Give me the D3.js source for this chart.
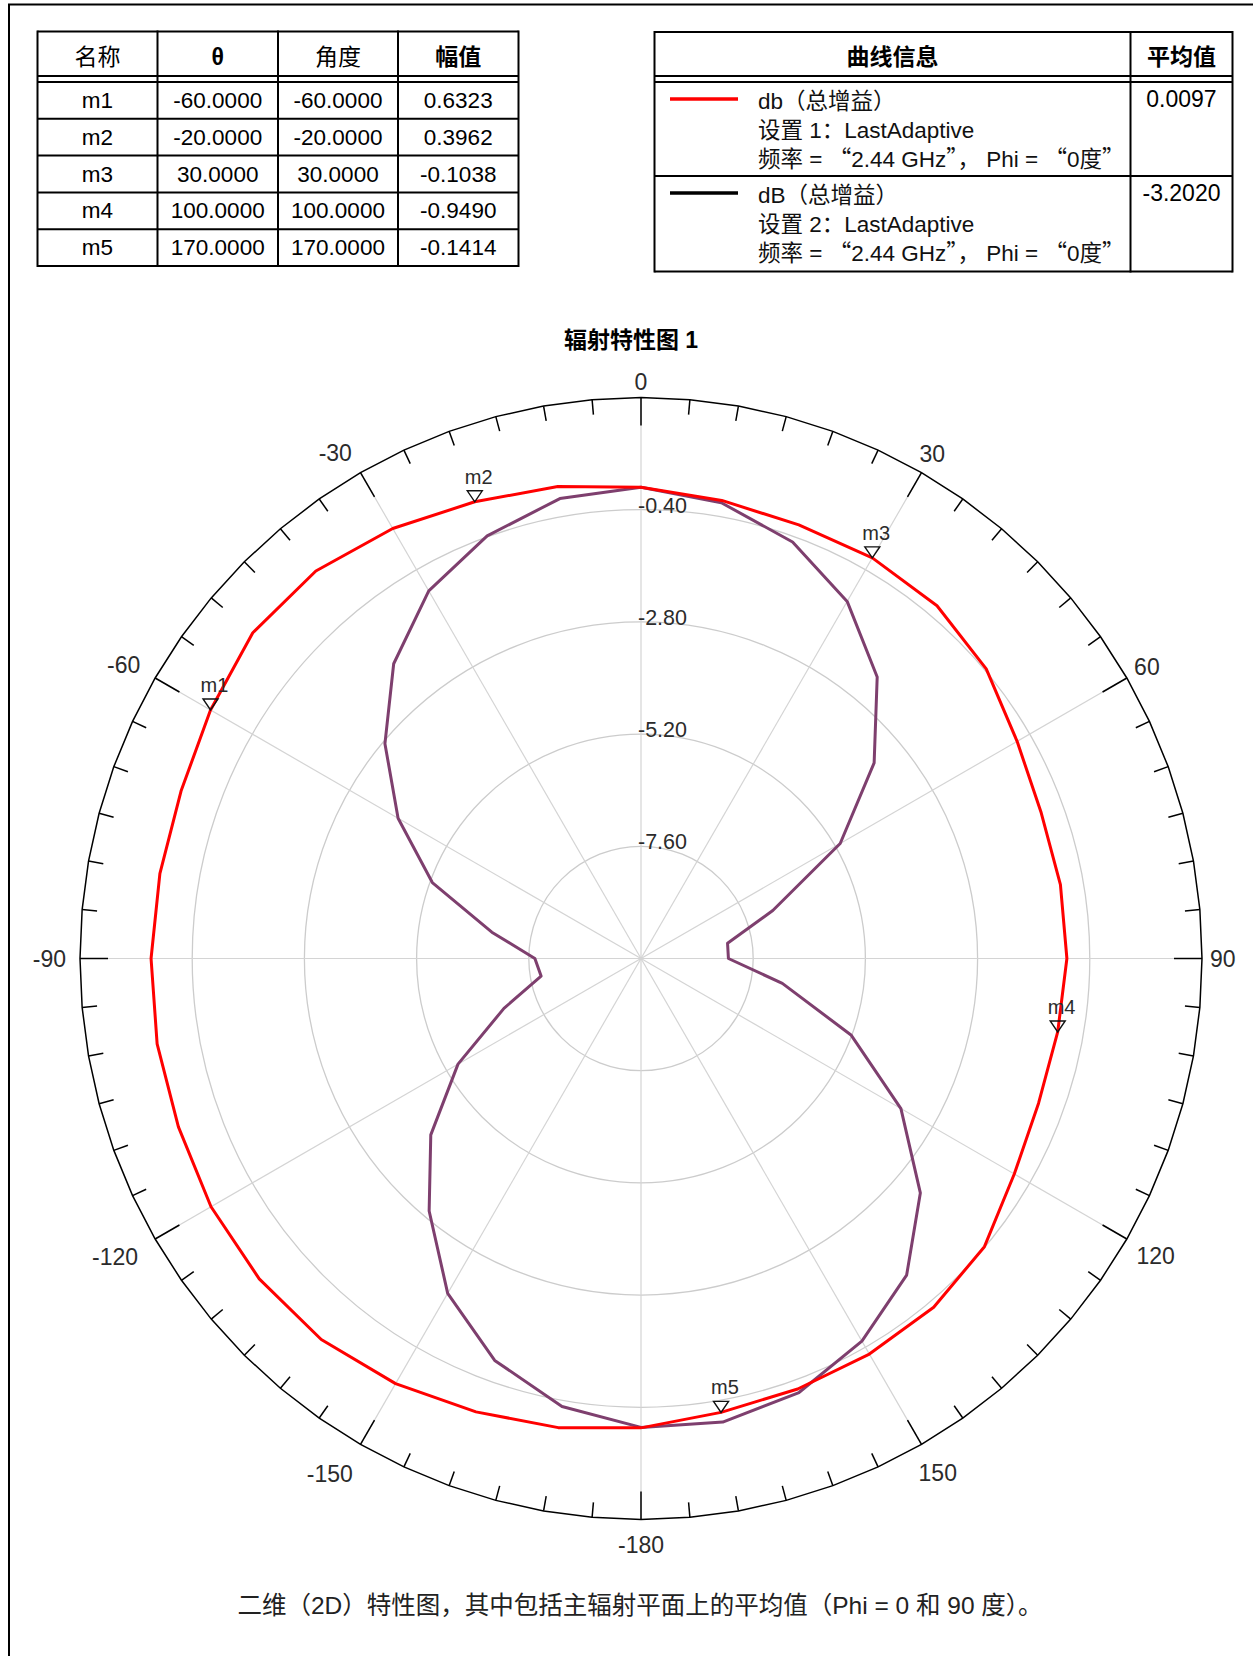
<!DOCTYPE html>
<html>
<head>
<meta charset="utf-8">
<script src="https://cdn.jsdelivr.net/npm/d3@7"></script>
<style>
  html, body { margin: 0; padding: 0; background: #fff; }
  svg { display: block; }
  text { font-family: "Liberation Sans", Arial, "Noto Sans CJK SC", sans-serif; }
  .cjk { font-family: "Noto Sans CJK SC", sans-serif; }
</style>
</head>
<body>
<svg id="chart" width="1253" height="1656"></svg>
<script>
// ---- marker table ----
const markerColumns = ["名称", "θ", "角度", "幅值"];
const markerNames = ["m1", "m2", "m3", "m4", "m5"];
const markerTheta = [-60, -20, 30, 100, 170];
const markerValues = [0.6323, 0.3962, -0.1038, -0.9490, -0.1414];

// ---- trace legend ----
const legendColumns = ["曲线信息", "平均值"];
const traceNames = ["db（总增益）", "dB（总增益）"];
const traceSetups = ["设置 1：LastAdaptive", "设置 2：LastAdaptive"];
const traceConditions = ["频率 = “2.44 GHz”， Phi = “0度”", "频率 = “2.44 GHz”， Phi = “0度”"];
const traceMeans = ["0.0097", "-3.2020"];

// ---- pattern samples (theta in degrees, gain in dB) ----
const thetaDeg = [-180, -170, -160, -150, -140, -130, -120, -110, -100, -90, -80, -70, -60,
                  -50, -40, -30, -20, -10, 0, 10, 20, 30, 40, 50, 60, 70, 80, 90,
                  100, 110, 120, 130, 140, 150, 160, 170, 180];
const gainSetup1 = [0.04, 0.19, 0.32, 0.50, 0.64, 0.66, 0.62, 0.53, 0.51, 0.48, 0.45, 0.47, 0.6323,
                    0.84, 0.82, 0.62, 0.3962, 0.25, 0.08, -0.05, -0.13, -0.1038, -0.15, -0.36, -0.71, -0.89, -0.89, -0.89,
                    -0.9490, -0.95, -0.78, -0.41, -0.26, -0.23, -0.20, -0.1414, 0.04];
const gainSetup2 = [0.03, -0.27, -0.85, -1.73, -2.95, -4.13, -5.48, -6.88, -7.83, -7.73, -6.76, -5.25, -4.00,
                    -2.85, -1.77, -0.92, -0.38, -0.01, 0.08, -0.10, -0.52, -1.18, -2.14, -3.49, -5.08, -7.00, -8.12, -8.13,
                    -6.93, -5.22, -3.58, -2.20, -1.16, -0.55, -0.12, 0.07, 0.03];

// ---- axes ----
const radialDomain = [-10, 2];
const ringValues = [-7.6, -5.2, -2.8, -0.4];
const angleTicks = [0, 30, 60, 90, 120, 150, -180, -150, -120, -90, -60, -30];
const chartTitle = "辐射特性图 1";
const caption = "二维（2D）特性图，其中包括主辐射平面上的平均值（Phi = 0 和 90 度）。";

const svg = d3.select("#chart");
const toRad = d => d * Math.PI / 180;
const fixed = n => v => v.toFixed(n);   // plain hyphen-minus for negatives

// writes a string into a text node, sending curly quotes through the CJK face
function richText(sel, s) {
  s.split(/([“”])/).filter(p => p.length).forEach(p => {
    const ts = sel.append("tspan").text(p);
    if (p === "“" || p === "”") ts.attr("class", "cjk");
  });
}

// page frame
svg.append("path").attr("d", "M9,1656V4.5H1253")
  .attr("fill", "none").attr("stroke", "#000").attr("stroke-width", 2);

// ---------- marker table ----------
(function () {
  const colX = [37.5, 157.5, 278, 398, 518.5];
  const top = 31.5, dbl1 = 76, dbl2 = 82, rowH = 36.8;
  const bottom = dbl2 + rowH * markerNames.length;
  const t = svg.append("g");
  const line = (x1, y1, x2, y2) => t.append("line").attr("x1", x1).attr("y1", y1).attr("x2", x2).attr("y2", y2)
    .attr("stroke", "#000").attr("stroke-width", 2);
  [top, dbl1, dbl2, bottom].forEach(y => line(colX[0], y, colX[4], y));
  markerNames.forEach((_, i) => { if (i > 0) line(colX[0], dbl2 + rowH * i, colX[4], dbl2 + rowH * i); });
  colX.forEach(x => line(x, top - 1, x, bottom + 1));
  const cx = i => (colX[i] + colX[i + 1]) / 2;
  markerColumns.forEach((h, i) => {
    t.append("text").attr("x", cx(i)).attr("y", 65).attr("text-anchor", "middle")
      .attr("font-size", 23).attr("font-weight", (i === 1 || i === 3) ? "bold" : "normal").attr("fill", "#000").text(h);
  });
  const f4 = fixed(4);
  markerNames.forEach((n, r) => {
    const y = dbl2 + rowH * (r + 0.5) + 7.5;
    const cells = [n, f4(markerTheta[r]), f4(markerTheta[r]), f4(markerValues[r])];
    cells.forEach((c, i) => t.append("text").attr("x", cx(i)).attr("y", y).attr("text-anchor", "middle")
      .attr("font-size", 22.5).attr("fill", "#000").text(c));
  });
})();

// ---------- trace legend table ----------
const traceColors = ["#ff0000", "#7e3f6e"];
const legendSwatch = ["#ff0000", "#000000"];
(function () {
  const colX = [654.5, 1130.5, 1232.5];
  const top = 32, dbl1 = 76, dbl2 = 82, mid = 176, bottom = 271.5;
  const t = svg.append("g");
  const line = (x1, y1, x2, y2) => t.append("line").attr("x1", x1).attr("y1", y1).attr("x2", x2).attr("y2", y2)
    .attr("stroke", "#000").attr("stroke-width", 2);
  [top, dbl1, dbl2, mid, bottom].forEach(y => line(colX[0], y, colX[2], y));
  colX.forEach(x => line(x, top - 1, x, bottom + 1));
  legendColumns.forEach((h, i) => {
    t.append("text").attr("x", (colX[i] + colX[i + 1]) / 2).attr("y", 65).attr("text-anchor", "middle")
      .attr("font-size", 23).attr("font-weight", "bold").attr("fill", "#000").text(h);
  });
  const blockTop = [dbl2, mid];
  traceNames.forEach((name, i) => {
    const y0 = blockTop[i];
    t.append("line").attr("x1", 670).attr("x2", 738).attr("y1", y0 + 17).attr("y2", y0 + 17)
      .attr("stroke", legendSwatch[i]).attr("stroke-width", 3.5);
    [name, traceSetups[i], traceConditions[i]].forEach((s, k) => {
      const tx = t.append("text").attr("x", 758).attr("y", y0 + 27 + k * 29).attr("font-size", 22.5)
        .attr("fill", "#111");
      richText(tx, s);
    });
    t.append("text").attr("x", (colX[1] + colX[2]) / 2).attr("y", y0 + 25).attr("text-anchor", "middle")
      .attr("font-size", 23).attr("fill", "#000").text(traceMeans[i]);
  });
})();

// ---------- title ----------
svg.append("text").attr("x", 631).attr("y", 348).attr("text-anchor", "middle")
  .attr("font-size", 23).attr("font-weight", "bold").attr("fill", "#000").text(chartTitle);

// ---------- polar plot ----------
const cx = 641, cy = 958.5, R = 561;
const r = d3.scaleLinear().domain(radialDomain).range([0, R]);
const plot = svg.append("g").attr("transform", `translate(${cx},${cy})`);

// grid rings
plot.append("g").selectAll("circle").data(ringValues).join("circle")
  .attr("r", d => r(d)).attr("fill", "none").attr("stroke", "#cccccc").attr("stroke-width", 1.3);

// grid spokes
const spokeAngles = d3.range(0, 360, 30);
plot.append("g").selectAll("line").data(spokeAngles).join("line")
  .attr("x1", 0).attr("y1", 0)
  .attr("x2", d => R * Math.sin(toRad(d))).attr("y2", d => -R * Math.cos(toRad(d)))
  .attr("stroke", "#d4d4d4").attr("stroke-width", 1.2);

// outer boundary drawn as a 5-degree polygon
const boundaryAngles = d3.range(0, 360, 5);
plot.append("path")
  .attr("d", d3.lineRadial().angle(d => toRad(d)).radius(R).curve(d3.curveLinearClosed)(boundaryAngles))
  .attr("fill", "none").attr("stroke", "#000").attr("stroke-width", 1.5);

// boundary ticks
const tickLen = d => (d % 30 === 0 ? 28 : 15);
plot.append("g").selectAll("line").data(boundaryAngles).join("line")
  .attr("x1", d => R * Math.sin(toRad(d))).attr("y1", d => -R * Math.cos(toRad(d)))
  .attr("x2", d => (R - tickLen(d)) * Math.sin(toRad(d)))
  .attr("y2", d => -(R - tickLen(d)) * Math.cos(toRad(d)))
  .attr("stroke", "#000").attr("stroke-width", 1.5);

// angle labels
const angleG = plot.append("g");
angleTicks.forEach(a => {
  const t = angleG.append("text").attr("font-size", 23).attr("fill", "#2b2b2b")
    .attr("text-anchor", "middle").text(a);
  const w = t.node().getComputedTextLength();
  const rad = toRad(a);
  const sn = Math.sin(rad), c = Math.cos(rad);
  const rr = R + 8 + Math.abs(sn) * w / 2 + Math.abs(c) * 8.2 + Math.max(0, -c) * 9;
  let x = rr * sn;
  if (sn < -0.01) x -= 6 + 10 * c * c;   // left-hand labels sit a little further out
  t.attr("x", x).attr("y", -rr * c + 8.2);
});

// radial labels
const fmt2 = fixed(2);
plot.append("g").selectAll("text").data(ringValues).join("text")
  .attr("x", -3).attr("y", d => -r(d) + 3)
  .attr("font-size", 21.5).attr("fill", "#2b2b2b").text(d => fmt2(d));

// traces
const trace = d3.lineRadial().angle((d, i) => toRad(thetaDeg[i])).radius(d => r(d));
plot.append("path").attr("d", trace(gainSetup2))
  .attr("fill", "none").attr("stroke", traceColors[1]).attr("stroke-width", 3).attr("stroke-linejoin", "round");
plot.append("path").attr("d", trace(gainSetup1))
  .attr("fill", "none").attr("stroke", traceColors[0]).attr("stroke-width", 3).attr("stroke-linejoin", "round");

// markers on setup 1 trace
const mk = plot.append("g");
markerNames.forEach((n, i) => {
  const rad = toRad(markerTheta[i]);
  const rr = r(markerValues[i]);
  const x = rr * Math.sin(rad), y = -rr * Math.cos(rad);
  mk.append("path").attr("d", `M${x - 7.5},${y - 11}L${x + 7.5},${y - 11}L${x},${y}Z`)
    .attr("fill", "none").attr("stroke", "#111").attr("stroke-width", 1.4);
  mk.append("text").attr("x", x - 10).attr("y", y - 18).attr("font-size", 20)
    .attr("fill", "#2b2b2b").text(n);
});

// caption
svg.append("text").attr("x", 640).attr("y", 1614).attr("text-anchor", "middle")
  .attr("font-size", 24.5).attr("fill", "#222").text(caption);
</script>
</body>
</html>
